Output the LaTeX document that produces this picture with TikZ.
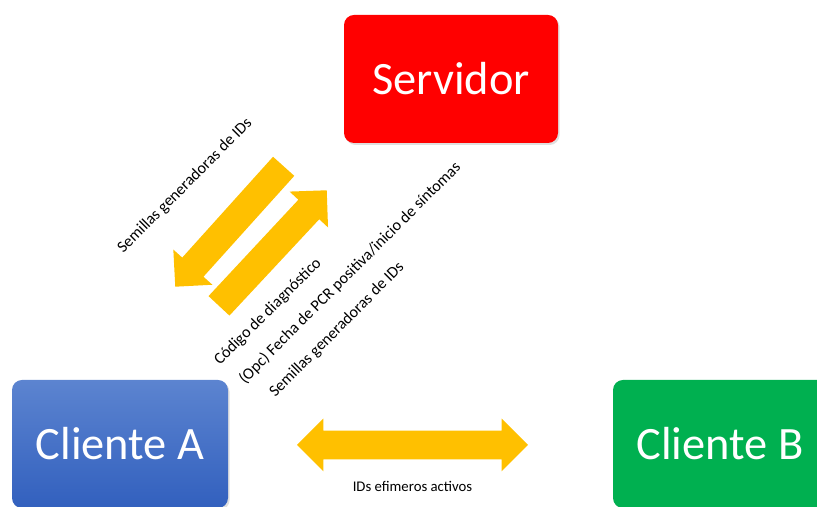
\documentclass[tikz,border=0pt]{standalone}
\usepackage{fontspec}
\setmainfont{Carlito}
\usetikzlibrary{positioning, shapes.arrows, shadows}
\definecolor{srvRed}{RGB}{255,0,0}
\definecolor{cliBlueTop}{RGB}{92,132,208}
\definecolor{cliBlueBot}{RGB}{50,96,190}
\definecolor{cliGreen}{RGB}{0,176,80}
\definecolor{arrowGold}{RGB}{255,192,0}
\tikzset{
    box/.style={
        rectangle,
        rounded corners=0.25cm,
        minimum width=5.35cm,
        minimum height=3.2cm,
        text=white,
        font=\fontsize{33}{40}\selectfont,
        drop shadow={opacity=0.25, shadow xshift=0.04cm, shadow yshift=-0.05cm}
    },
    fatArrow/.style={
        single arrow,
        fill=arrowGold,
        inner sep=0.35cm,
        single arrow head extend=0.3cm,
        anchor=tip
    },
    lbl/.style={
        font=\fontsize{11.5}{14}\selectfont,
        inner sep=1pt
    }
}

\begin{document}
\begin{tikzpicture}
    \useasboundingbox (0,0) rectangle (20.425,12.675);

    \node[box, fill=srvRed] (srv) at (11.275,10.7) {Servidor};
    \node[box, minimum width=5.4cm, top color=cliBlueTop, bottom color=cliBlueBot] (cliA) at (3.0,1.575) {Cliente A};
    \node[box, fill=cliGreen] (cliB) at (18.0,1.575) {Cliente B};

    % flechas servidor <-> cliente A
    \node[fatArrow, minimum height=4.05cm, rotate=228] (down) at (4.375,5.5) {};
    \node[fatArrow, minimum height=3.95cm, rotate=47] (up) at (8.175,7.925) {};

    \node[lbl, rotate=45] (seedsDown) at (4.625,8.025) {Semillas generadoras de IDs};
    \node[lbl, rotate=45] (code) at (6.7,4.875) {Código de diagnóstico};
    \node[lbl, rotate=45] (date) at (8.75,5.85) {(Opc) Fecha de PCR positiva/inicio de síntomas};
    \node[lbl, rotate=45] (seedsUp) at (8.425,4.425) {Semillas generadoras de IDs};

    % cliente A <-> cliente B
    \node[double arrow, fill=arrowGold, inner sep=0.35cm, double arrow head extend=0.3cm,
          minimum height=5.775cm] (ids) at (10.3125,1.55) {};
    \node[lbl, font=\fontsize{10.5}{12}\selectfont, below=0.5cm of ids] (idsLbl) {IDs efimeros activos};
\end{tikzpicture}
\end{document}
